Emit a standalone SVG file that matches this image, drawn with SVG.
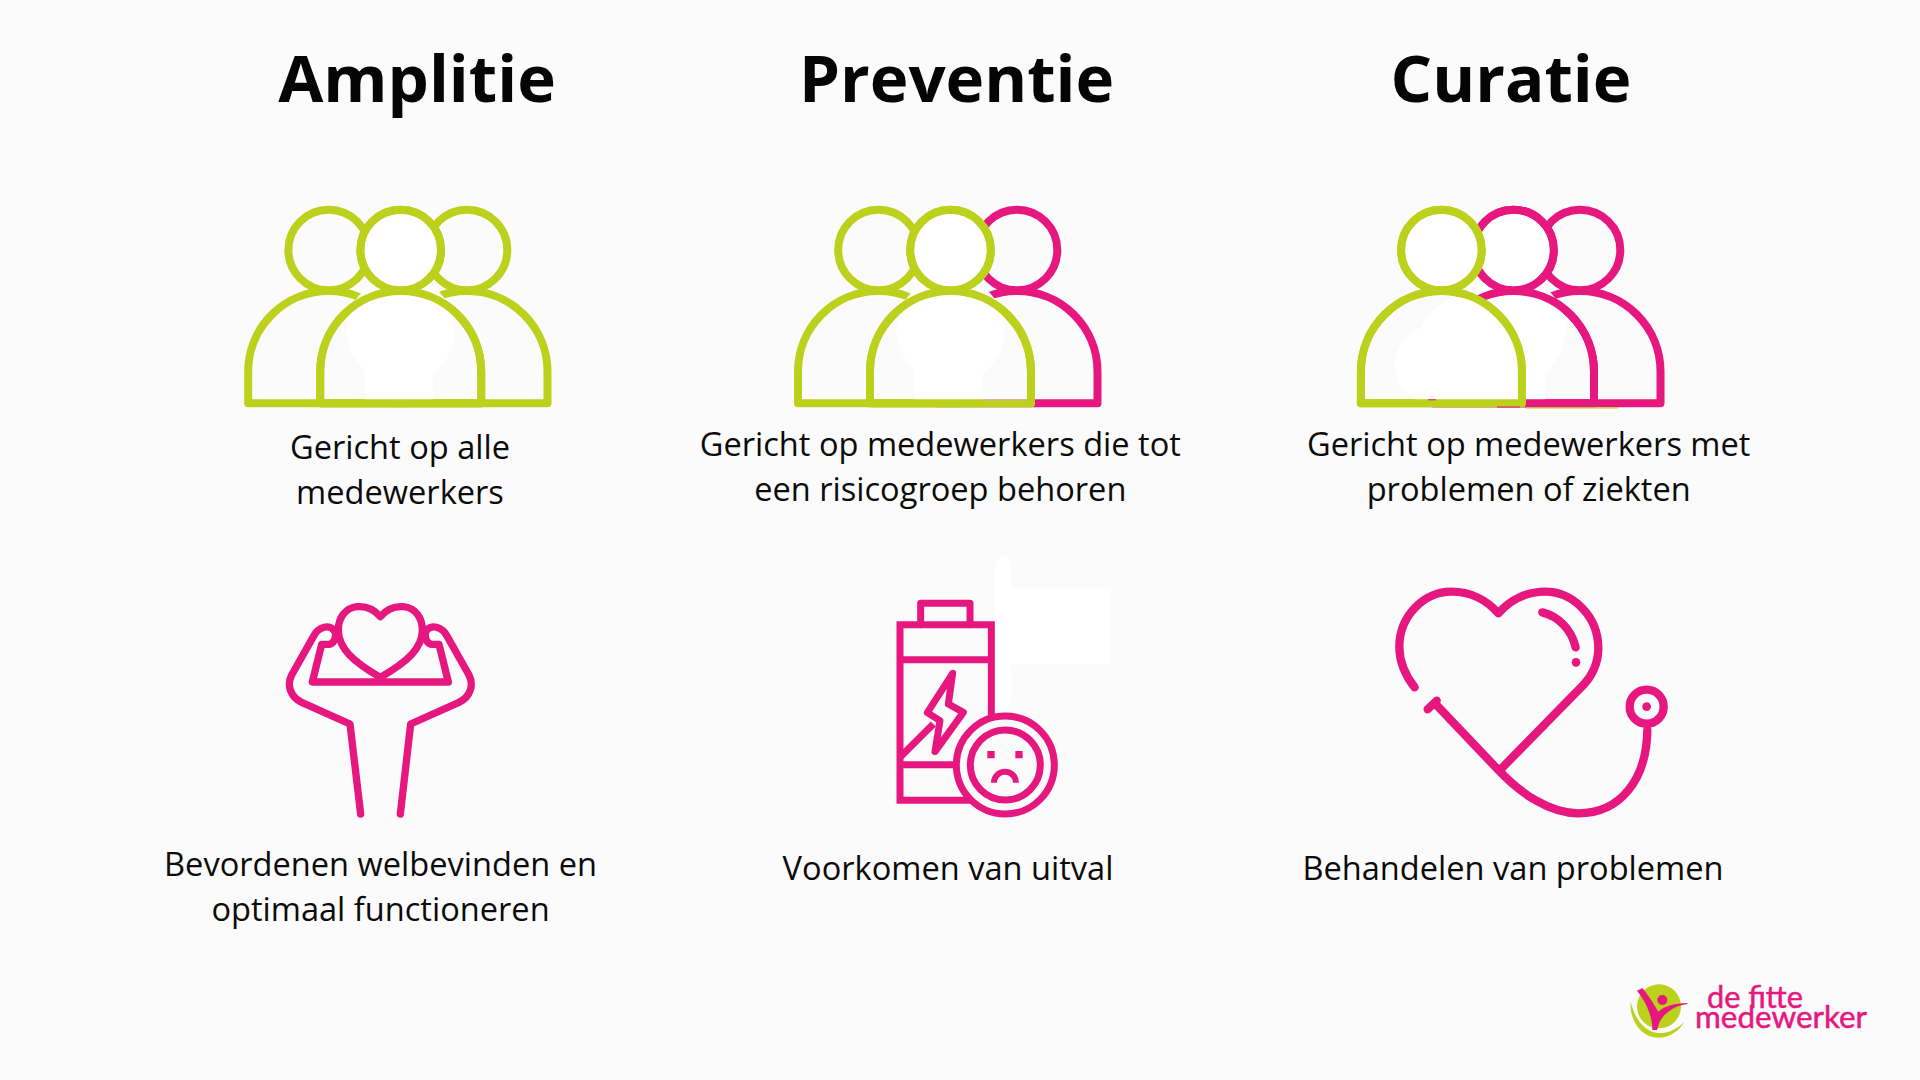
<svg xmlns="http://www.w3.org/2000/svg" xmlns:xlink="http://www.w3.org/1999/xlink" width="1920" height="1080" viewBox="0 0 1920 1080">
<style>
text{font-family:"Open Sans","Noto Sans",sans-serif;fill:#0b0b0b;text-anchor:middle}
.h{font-size:65.4px;font-weight:700;fill:#050505}
.t{font-size:32.6px}
.g{stroke:#bcd11c}
.p{stroke:#e6177f}
.bgf{fill:#fbfbfc}
.nf{fill:none}
.w{fill:#fff;stroke:none}
.i{fill:none;stroke:#e6177f;stroke-linecap:round;stroke-linejoin:round}
.pf{fill:#e6177f;stroke:none}
.lg{fill:#bcd11c;stroke:none}
.lt{fill:#e6177f;stroke:#e6177f;stroke-width:.5px;font-family:"Lato","Open Sans",sans-serif;font-size:31px;text-anchor:start}
</style>
<defs>
<g id="person" stroke-width="8" stroke-linejoin="round">
<circle cx="0" cy="250" r="40.300"/>
<path d="M-80.500 403.300V371.500A80.500 80.500 0 0 1 80.500 371.500V403.300Z"/>
</g>
<g id="blob">
<circle cx="0" cy="250" r="36.200"/>
<circle cx="0" cy="330" r="54"/>
<rect x="-36" y="340" width="68" height="60"/>
</g>
<clipPath id="leftBody"><path d="M1360.900 403.300V371.500A80.500 80.500 0 0 1 1521.900 371.500V403.300Z"/></clipPath>
</defs>
<rect id="background" width="1920" height="1080" fill="#fbfbfc"/>

<g id="title-amplitie"><text class="h" x="417" y="102">Amplitie</text></g>
<g id="title-preventie"><text class="h" x="956.600" y="102">Preventie</text></g>
<g id="title-curatie"><text class="h" x="1511" y="102">Curatie</text></g>

<g id="people-amplitie">
<use xlink:href="#person" href="#person" class="g bgf" x="328.700"/>
<use xlink:href="#person" href="#person" class="g bgf" x="467"/>
<use xlink:href="#person" href="#person" class="g bgf" x="400.700"/>
<use xlink:href="#blob" href="#blob" class="w" x="400.700"/>
<use xlink:href="#person" href="#person" class="g nf" x="400.700"/>
</g>
<g id="people-preventie">
<use xlink:href="#person" href="#person" class="p bgf" x="1017"/>
<use xlink:href="#person" href="#person" class="g bgf" x="878.500"/>
<use xlink:href="#person" href="#person" class="g bgf" x="950.500"/>
<use xlink:href="#blob" href="#blob" class="w" x="950.500"/>
<use xlink:href="#person" href="#person" class="g nf" x="950.500"/>
<path d="M982 399.800H1027" stroke="#f3a0c8" stroke-width="1" fill="none"/>
</g>
<g id="people-curatie">
<use xlink:href="#person" href="#person" class="p bgf" x="1580"/>
<use xlink:href="#person" href="#person" class="p bgf" x="1513.500"/>
<circle class="w" cx="1513.500" cy="250" r="36.200"/>
<circle class="w" cx="1511" cy="330" r="54.500"/>
<rect class="w" x="1477" y="340" width="68" height="60"/>
<use xlink:href="#person" href="#person" class="p nf" x="1513.500"/>
<use xlink:href="#person" href="#person" class="g bgf" x="1441.400"/>
<g clip-path="url(#leftBody)">
<circle class="w" cx="1511" cy="330" r="54.500"/>
<rect class="w" x="1477" y="340" width="68" height="60"/>
<circle class="w" cx="1435" cy="365" r="40"/>
<path class="w" d="M1420 345V330C1430 305 1450 295 1480 295V400H1440V345Z"/>
</g>
<circle class="w" cx="1441.400" cy="250" r="36.200"/>
<use xlink:href="#person" href="#person" class="g nf" x="1441.400"/>
<path d="M1428 399.800H1436M1497 407H1520" stroke="#e6177f" stroke-width="1" fill="none"/>
<path d="M1526 407.800H1618" stroke="#bcd11c" stroke-width="1.200" fill="none"/>
</g>

<g id="label-amplitie"><text class="t" x="400" y="459">Gericht op alle</text><text class="t" x="400" y="504">medewerkers</text></g>
<g id="label-preventie"><text class="t" x="940.300" y="456">Gericht op medewerkers die tot</text><text class="t" x="940.300" y="501">een risicogroep behoren</text></g>
<g id="label-curatie"><text class="t" x="1528.700" y="456">Gericht op medewerkers met</text><text class="t" x="1528.700" y="501">problemen of ziekten</text></g>

<g id="icon-welbevinden" transform="translate(270 590) scale(.33333)">
<g class="i" stroke-width="22">
<path d="M272 672L240 402L95 337C60 320 50 285 65 255L130 140C145 110 180 100 195 125C200 145 190 163 175 163H155L127 276H535L507 163H487C472 163 462 145 467 125C482 100 517 110 532 140L597 255C612 285 602 320 567 337L422 402L391 672"/>
<path d="M331 80C310 55 285 48 262 50C225 53 205 85 205 120C205 175 250 215 331 262C412 215 457 175 457 120C457 85 437 53 400 50C377 48 352 55 331 80Z" fill="#fbfbfc"/>
</g>
</g>

<g id="icon-batterij" transform="translate(880 550) scale(.33333)">
<path class="w" d="M346 42A23 23 0 0 1 393 42V113H692V343H393V455A23 23 0 0 1 346 455Z"/>
<g class="i" stroke-width="21">
<path d="M60 224H334V751H60Z" stroke-linejoin="miter"/>
<path d="M122 224V160H270V224"/>
<path d="M60 329H334" stroke-linecap="butt"/>
<path d="M60 644H230" stroke-linecap="butt"/>
<path d="M60 622L160 522" stroke-linecap="butt"/>
<path d="M218 370L142 488L180 512L165 605L250 487L205 462Z"/>
<circle cx="376" cy="645" r="147" fill="#fbfbfc"/>
<circle cx="376" cy="645" r="105"/>
<path d="M342 698A33 33 0 0 1 408 698" stroke-linecap="butt" stroke-width="18"/>
</g>
<path class="pf" d="M322 603H344V625H322ZM406 603H428V625H406Z"/>
</g>

<g id="icon-stethoscoop" transform="translate(1380 580) scale(.33333)">
<g class="i" stroke-width="25">
<path d="M104 322C75 285 58 245 58 200C58 110 130 35 215 35C270 35 320 60 355 100C390 60 440 35 495 35C580 35 655 110 655 205C655 250 635 290 610 315L360 570"/>
<path d="M172 378L355 570C420 640 510 700 595 700C720 700 800 600 802 450"/>
<path d="M143 388L170 362"/>
<path d="M487 97C535 108 575 150 587 202"/>
<circle cx="800" cy="380" r="51"/>
</g>
<circle class="pf" cx="800" cy="380" r="13"/>
<circle class="pf" cx="588" cy="247" r="13"/>
</g>

<g id="logo">
<g transform="translate(1625 975) scale(.33333)">
<circle class="lg" cx="102" cy="94" r="66"/>
<path class="lg" d="M17 80C12 130 45 188 100 188C135 188 165 165 178 140C160 160 130 176 100 174C60 172 28 130 17 80Z"/>
<path class="pf" d="M36 47L52 39C70 60 88 90 100 110C120 92 150 85 187 84L187 87C150 92 120 112 104 140L96 165L82 165C82 120 62 80 36 47Z"/>
<circle class="pf" cx="112" cy="75" r="15"/>
</g>
<text class="lt" x="1707" y="1007.700" textLength="96" lengthAdjust="spacingAndGlyphs">de fitte</text>
<text class="lt" x="1695" y="1028.300" textLength="172" lengthAdjust="spacingAndGlyphs">medewerker</text>
</g>

<g id="label-welbevinden"><text class="t" x="380.500" y="876">Bevordenen welbevinden en</text><text class="t" x="380.500" y="921">optimaal functioneren</text></g>
<g id="label-uitval"><text class="t" x="948" y="880">Voorkomen van uitval</text></g>
<g id="label-behandelen"><text class="t" x="1513" y="880">Behandelen van problemen</text></g>
</svg>
